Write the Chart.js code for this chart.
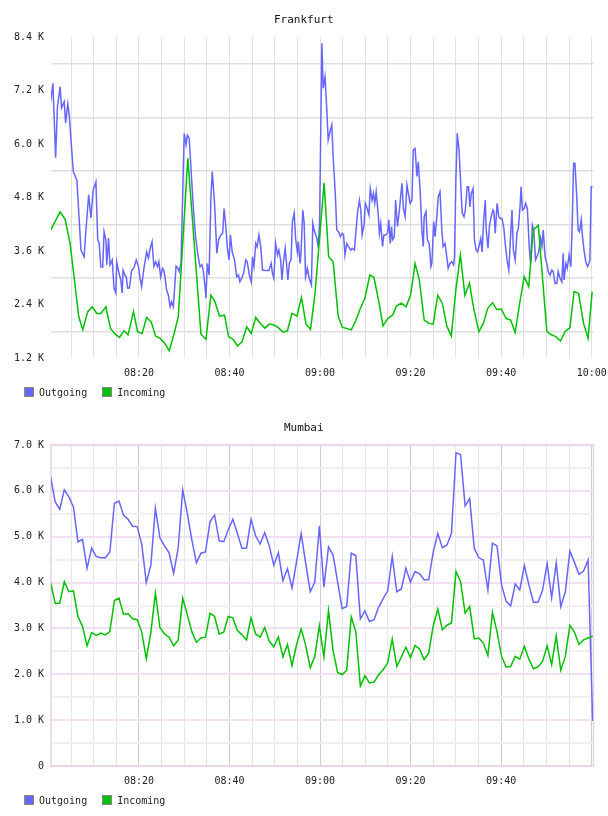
<!DOCTYPE html>
<html lang="en">
<head>
<meta charset="UTF-8">
<title>Traffic - Frankfurt / Mumbai</title>
<script src="https://cdn.jsdelivr.net/npm/chart.js"></script>
<style>
  body { margin: 0; background: #fff; font-family: "DejaVu Sans Mono", monospace; }
  .panel { position: absolute; left: 0; width: 608px; height: 408px; }
  .panel canvas { position: absolute; left: 0; top: 0; }
  .legend { position: absolute; left: 24px; top: 387px; display: flex; align-items: center; font-size: 10px; color: #222; height: 10px; }
  .legend .item { display: flex; align-items: center; margin-right: 15px; }
  .legend .box { width: 8px; height: 8px; border: 1px solid #888; margin-right: 5px; }
</style>
</head>
<body>
<div class="panel" style="top:0">
  <canvas id="frankfurt" width="608" height="390"></canvas>
  <div class="legend" id="legend-frankfurt"></div>
</div>
<div class="panel" style="top:408px">
  <canvas id="mumbai" width="608" height="390"></canvas>
  <div class="legend" id="legend-mumbai"></div>
</div>

<script>
// series names / colours
const seriesNames = ['Outgoing', 'Incoming'];
const seriesColors = ['#6666ff', '#00c000'];

// Frankfurt outgoing: minutes after 08:00, values in K
const frOutTime = [
  0.5,1.0,1.6,2.0,2.6,2.9,3.5,3.8,4.3,4.6,
  5.5,6.3,7.2,7.9,8.3,8.9,9.4,9.9,10.5,10.9,
  11.2,11.6,12.0,12.3,12.7,12.9,13.3,13.6,14.1,14.5,
  14.9,15.1,15.6,16.0,16.3,16.5,16.9,17.2,17.5,17.9,
  18.4,18.9,19.4,19.9,20.2,20.6,21.1,21.7,22.1,22.5,
  22.9,23.3,23.7,24.1,24.4,24.8,25.2,25.5,25.9,26.1,
  26.5,26.9,27.2,27.6,28.2,28.6,28.9,29.3,30.0,30.4,
  30.7,31.1,32.0,32.5,33.1,33.5,33.9,34.2,34.6,34.8,
  35.1,35.5,35.9,36.2,36.7,37.2,37.6,38.1,38.5,38.8,
  39.2,39.5,39.9,40.2,40.6,41.1,41.6,42.0,42.3,42.7,
  43.1,43.6,43.9,44.4,44.8,45.1,45.4,45.8,46.1,46.5,
  46.9,47.3,47.6,48.2,48.7,49.2,49.5,49.8,50.2,50.6,
  50.9,51.3,51.6,51.9,52.3,52.6,52.9,53.2,53.6,53.9,
  54.3,54.6,55.0,55.2,55.6,55.8,56.2,56.5,56.8,57.2,
  57.6,58.1,58.4,58.7,59.3,59.6,59.9,60.4,60.7,61.1,
  61.5,61.8,62.2,62.6,62.9,63.4,63.7,64.1,64.5,64.9,
  65.2,65.5,65.9,66.3,66.8,67.1,67.6,67.9,68.3,68.7,
  69.0,69.3,69.7,70.0,70.4,70.8,71.1,71.5,71.8,72.1,
  72.4,72.8,73.1,73.4,73.8,74.1,74.5,74.9,75.2,75.5,
  75.8,76.0,76.4,76.7,77.1,77.5,77.8,78.1,78.4,78.8,
  79.2,79.5,79.9,80.3,80.6,81.0,81.4,81.7,82.1,82.5,
  82.8,83.0,83.4,83.7,84.1,84.5,84.7,85.1,85.4,85.8,
  86.1,86.5,86.9,87.2,87.6,88.0,88.3,88.7,89.1,89.5,
  89.7,90.0,90.3,90.7,91.1,91.4,91.8,92.1,92.5,92.8,
  93.1,93.4,93.8,94.1,94.5,94.8,95.1,95.5,95.8,96.1,
  96.5,96.7,97.1,97.4,97.8,98.2,98.4,98.7,99.1,99.5,
  99.8,100.2,100.6,100.9,101.3,101.7,102.0,102.4,102.7,103.1,
  103.5,103.8,104.2,104.4,104.7,105.1,105.4,105.8,106.2,106.5,
  106.9,107.2,107.6,107.9,108.3,108.7,109.0,109.3,109.7,110.1,
  110.4,110.8,111.2,111.5,111.9,112.3,112.6,113.0,113.4,113.7,
  113.9,114.3,114.6,115.0,115.4,115.7,116.0,116.3,116.7,117.0,
  117.3,117.7,117.9,118.3,118.7,119.1,119.4,119.6,119.9,120.2
];
const frOutVal = [
  6.95,7.36,5.69,6.83,7.29,6.81,6.95,6.47,6.90,6.65,
  5.38,5.19,3.62,3.47,4.07,4.86,4.34,4.97,5.15,3.85,
  3.78,3.24,3.24,4.03,3.85,3.29,3.89,3.29,3.40,2.77,
  2.66,3.35,3.10,2.95,2.66,3.17,3.06,3.02,2.77,2.77,
  3.17,3.22,3.40,3.25,3.02,2.80,3.21,3.58,3.44,3.67,
  3.81,3.25,3.36,3.25,3.36,3.02,3.21,3.17,2.91,2.73,
  2.61,2.35,2.46,2.35,3.26,3.22,3.14,3.33,6.24,5.98,
  6.20,6.13,4.59,3.92,3.47,3.25,3.29,3.17,2.80,2.54,
  3.32,3.06,4.82,5.38,4.67,3.55,3.85,3.96,4.00,4.55,
  4.15,3.70,3.40,3.96,3.58,3.40,3.02,3.06,2.91,2.99,
  3.10,3.40,3.36,3.06,2.91,3.47,3.25,3.77,3.70,3.96,
  3.70,3.17,3.17,3.16,3.16,3.32,3.10,2.99,3.77,3.51,
  3.62,3.40,2.95,3.32,3.66,3.32,2.95,3.32,3.40,4.26,
  4.45,3.88,3.58,3.81,3.32,3.55,4.52,4.22,3.02,3.21,
  2.99,2.84,4.22,4.07,3.88,3.70,4.22,8.26,7.25,7.51,
  6.76,6.09,6.28,6.43,5.72,4.82,4.07,4.03,3.92,4.00,
  3.97,3.51,3.77,3.70,3.62,3.66,3.62,4.00,4.48,4.74,
  4.52,3.96,4.18,4.67,4.56,4.41,5.00,4.74,4.89,4.67,
  4.93,4.48,4.00,4.22,3.70,3.96,3.96,4.00,4.30,3.77,
  4.15,3.85,3.92,4.74,4.15,4.48,4.82,5.12,4.56,4.37,
  5.08,4.89,4.67,4.74,5.87,5.90,5.27,5.60,4.97,4.07,
  3.70,4.37,4.48,3.85,3.77,3.25,3.32,4.26,3.92,4.37,
  4.82,4.93,4.07,3.70,3.77,3.47,3.21,3.32,3.36,3.29,
  3.47,5.19,6.24,5.87,5.04,4.45,4.37,4.52,5.04,5.04,
  4.59,4.89,5.00,3.85,3.62,3.58,3.70,3.88,3.58,4.22,
  4.74,4.07,3.66,4.15,4.37,4.52,4.48,4.00,4.67,4.37,
  4.33,4.33,4.11,3.77,3.40,3.17,3.77,4.52,3.62,3.40,
  4.00,4.11,4.63,5.04,4.52,4.55,4.67,4.55,3.70,3.32,
  4.18,4.07,3.40,3.47,3.58,3.88,3.70,4.07,3.47,3.32,
  3.14,3.06,3.17,3.14,2.87,2.87,3.14,2.99,2.91,3.55,
  2.95,3.32,3.21,3.51,3.25,4.22,5.57,5.57,4.82,4.07,
  4.03,4.30,4.00,3.62,3.36,3.25,3.32,3.40,5.04,5.04
];

// Frankfurt incoming
const frInTime = [
  0.5,2.6,3.7,4.8,6.7,7.6,8.7,9.7,10.7,11.6,
  12.7,13.7,14.7,15.7,16.7,17.6,18.8,19.7,20.7,21.7,
  22.7,23.7,24.7,25.7,26.7,27.7,28.7,30.8,33.7,34.8,
  35.9,36.8,37.8,38.9,39.8,40.8,41.8,42.8,43.8,44.8,
  45.8,46.8,47.8,48.8,49.8,50.8,51.8,52.8,53.8,54.9,
  55.9,56.9,57.9,58.9,60.9,61.9,62.9,64.0,64.9,66.9,
  67.9,68.9,69.9,71.0,71.9,73.0,73.9,75.0,76.0,76.9,
  78.0,79.0,80.0,81.0,81.9,83.0,84.0,85.0,86.0,87.0,
  88.0,89.0,90.0,91.0,92.0,93.0,94.0,95.1,96.1,97.0,
  98.1,99.0,100.0,101.1,102.1,103.1,104.1,105.1,106.1,107.1,
  108.2,110.1,111.1,112.1,113.1,114.1,115.2,116.1,117.1,118.2,
  119.2,120.1
];
const frInVal = [
  4.07,4.48,4.31,3.77,2.13,1.83,2.24,2.35,2.20,2.20,
  2.35,1.87,1.74,1.66,1.81,1.72,2.24,1.79,1.75,2.11,
  2.01,1.69,1.64,1.53,1.36,1.72,2.13,5.68,1.74,1.62,
  2.61,2.46,2.14,2.16,1.68,1.62,1.47,1.57,1.90,1.75,
  2.11,1.98,1.87,1.96,1.94,1.88,1.78,1.81,2.20,2.14,
  2.56,1.96,1.84,2.65,5.13,3.47,3.36,2.14,1.89,1.83,
  2.04,2.31,2.54,3.06,3.01,2.46,1.92,2.09,2.16,2.37,
  2.43,2.35,2.61,3.32,2.97,2.05,1.98,1.96,2.61,2.43,
  1.92,1.69,2.73,3.51,2.60,2.88,2.28,1.79,1.98,2.31,
  2.44,2.29,2.30,2.09,2.05,1.77,2.43,3.02,2.80,4.07,
  4.18,1.79,1.72,1.68,1.58,1.79,1.88,2.69,2.65,1.98,
  1.64,2.69
];

// Mumbai: one sample per minute
const muStart = 0.5;
const muStep = 1.006;
const muOutVal = [
  6.30,5.76,5.60,6.02,5.87,5.65,4.89,4.94,4.31,4.75,
  4.57,4.54,4.54,4.67,5.73,5.78,5.47,5.38,5.23,5.22,
  4.84,4.00,4.38,5.62,4.97,4.80,4.65,4.20,4.75,6.02,
  5.51,4.93,4.43,4.64,4.67,5.33,5.47,4.91,4.89,5.15,
  5.38,5.07,4.75,4.75,5.38,5.02,4.84,5.09,4.80,4.38,
  4.65,4.04,4.30,3.88,4.46,5.07,4.42,3.80,4.01,5.23,
  3.90,4.78,4.60,4.02,3.43,3.48,4.64,4.59,3.21,3.38,
  3.15,3.19,3.46,3.65,3.82,4.57,3.80,3.86,4.31,4.01,
  4.24,4.19,4.06,4.06,4.67,5.07,4.76,4.82,5.07,6.83,
  6.79,5.67,5.83,4.75,4.54,4.49,3.84,4.86,4.80,3.95,
  3.59,3.49,3.97,3.84,4.37,3.95,3.57,3.57,3.83,4.41,
  3.67,4.43,3.48,3.80,4.69,4.44,4.18,4.25,4.49,0.98
];
const muInVal = [
  4.00,3.55,3.55,4.02,3.80,3.82,3.26,3.04,2.62,2.91,
  2.85,2.90,2.86,2.93,3.61,3.66,3.31,3.32,3.21,3.19,
  2.92,2.34,2.91,3.77,3.02,2.88,2.81,2.62,2.75,3.66,
  3.30,2.93,2.70,2.79,2.81,3.33,3.26,2.88,2.92,3.26,
  3.23,2.96,2.86,2.75,3.23,2.88,2.81,3.02,2.72,2.60,
  2.81,2.38,2.65,2.19,2.65,2.99,2.63,2.14,2.39,3.06,
  2.38,3.39,2.52,2.04,1.99,2.09,3.25,2.93,1.74,1.97,
  1.81,1.83,1.99,2.10,2.25,2.77,2.17,2.38,2.59,2.36,
  2.63,2.55,2.32,2.46,3.06,3.42,2.97,3.07,3.12,4.24,
  4.02,3.33,3.48,2.77,2.79,2.68,2.41,3.35,2.93,2.39,
  2.16,2.17,2.39,2.33,2.61,2.33,2.12,2.16,2.28,2.62,
  2.21,2.84,2.09,2.39,3.07,2.92,2.65,2.75,2.79,2.83
];

const FONT = 'DejaVu Sans Mono';

function pad(n) { return (n < 10 ? '0' : '') + n; }
function clock(min) {
  const m = Math.round(min);
  return pad(8 + Math.floor(m / 60)) + ':' + pad(m % 60);
}
function pairs(times, vals) {
  return vals.map((v, i) => ({ x: times[i], y: v }));
}

function buildLegend(id) {
  const el = document.getElementById(id);
  seriesNames.forEach((name, i) => {
    const item = document.createElement('span');
    item.className = 'item';
    item.innerHTML = '<span class="box" style="background:' + seriesColors[i] + '"></span>' + name;
    el.appendChild(item);
  });
}

// pink frame round the Mumbai plot
const framePlugin = {
  id: 'frame',
  beforeDatasetsDraw(chart, args, opts) {
    if (!opts.color) return;
    const a = chart.chartArea;
    const ctx = chart.ctx;
    ctx.save();
    ctx.strokeStyle = opts.color;
    ctx.lineWidth = 1.5;
    ctx.strokeRect(a.left, a.top, a.right - a.left, a.bottom - a.top);
    ctx.restore();
  }
};

function makeChart(canvasId, title, outData, inData, yCfg, mumbai) {
  return new Chart(document.getElementById(canvasId), {
    type: 'line',
    data: {
      datasets: [
        { label: seriesNames[0], data: outData, borderColor: seriesColors[0], borderWidth: 1.5, order: 1 },
        { label: seriesNames[1], data: inData, borderColor: seriesColors[1], borderWidth: 1.5, order: 0 }
      ]
    },
    plugins: [framePlugin],
    options: {
      responsive: false,
      animation: false,
      elements: { point: { radius: 0 }, line: { tension: 0 } },
      layout: { padding: { top: 0, left: 14, right: 14.5, bottom: 2 } },
      plugins: {
        legend: { display: false },
        tooltip: { enabled: false },
        frame: { color: mumbai ? '#e8d2e8' : null },
        title: {
          display: true,
          text: title,
          color: '#111',
          font: { family: FONT, size: 11, weight: 'normal' },
          padding: { top: 13.6, bottom: 10.2 }
        }
      },
      scales: {
        x: {
          type: 'linear',
          min: 0.58,
          max: 120.4,
          border: { display: false },
          // keep the plot full width even though "10:00" sits at the edge
          afterFit: s => { s.paddingLeft = 0; s.paddingRight = 0; },
          grid: {
            drawTicks: false,
            lineWidth: 1,
            color: ctx => {
              if (!mumbai) return '#e2e2e2';
              return ctx.tick && Math.round(ctx.tick.value) % 20 === 0 ? '#dcc4dc' : '#e6e6e6';
            }
          },
          ticks: {
            stepSize: 5,
            includeBounds: false,
            autoSkip: false,
            maxRotation: 0,
            padding: 9,
            color: '#222',
            font: { family: FONT, size: 10 },
            callback: v => {
              if (Math.round(v) % 20 !== 0) return '';
              if (mumbai && v >= 120) return '';
              return clock(v);
            }
          }
        },
        y: {
          min: yCfg.min,
          max: yCfg.max,
          border: { display: false },
          afterFit: s => { s.width = 37; },
          grid: {
            drawTicks: false,
            lineWidth: mumbai ? 2 : 1.5,
            color: ctx => {
              const k = Math.round(ctx.tick.value * 10);
              const major = k % yCfg.labelEvery === 0;
              if (mumbai) return major ? '#f0e0f0' : '#f0f0f0';
              return major ? 'rgba(0,0,0,0)' : '#dedede';
            }
          },
          ticks: {
            stepSize: yCfg.step,
            autoSkip: false,
            padding: 7,
            color: '#222',
            font: { family: FONT, size: 10 },
            callback: v => {
              const k = Math.round(v * 10);
              if (k % yCfg.labelEvery !== 0) return '';
              return k === 0 ? '0' : v.toFixed(1) + ' K';
            }
          }
        }
      }
    }
  });
}

const muTime = muOutVal.map((v, i) => muStart + i * muStep);

makeChart('frankfurt', 'Frankfurt',
  pairs(frOutTime, frOutVal), pairs(frInTime, frInVal),
  { min: 1.2, max: 8.4, step: 0.6, labelEvery: 12 }, false);

makeChart('mumbai', 'Mumbai',
  pairs(muTime, muOutVal), pairs(muTime, muInVal),
  { min: 0, max: 7, step: 0.5, labelEvery: 10 }, true);

buildLegend('legend-frankfurt');
buildLegend('legend-mumbai');
</script>
</body>
</html>
